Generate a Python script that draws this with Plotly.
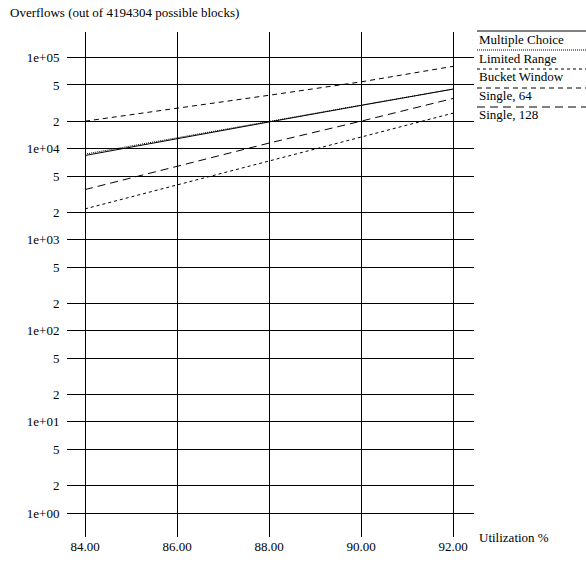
import plotly.graph_objects as go

# ---- data ----
utilization = [84, 86, 88, 90, 92]
series_names = ["Multiple Choice", "Limited Range", "Bucket Window", "Single, 64", "Single, 128"]
multiple_choice = [8400, 12900, 19600, 29800, 45000]
limited_range = [8700, 13200, 19900, 30000, 45000]
bucket_window = [2180, 4000, 7300, 13400, 24500]
single_64 = [20000, 27500, 38500, 54000, 80000]
single_128 = [3550, 6400, 11500, 20000, 35500]

x_tick_vals = [84, 86, 88, 90, 92]
x_tick_text = ["84.00", "86.00", "88.00", "90.00", "92.00"]
y_tick_vals = [1, 2, 5, 10, 20, 50, 100, 200, 500, 1000, 2000, 5000,
               10000, 20000, 50000, 100000]
y_tick_text = ["1e+00", "2", "5", "1e+01", "2", "5", "1e+02", "2", "5",
               "1e+03", "2", "5", "1e+04", "2", "5", "1e+05"]

series_values = [multiple_choice, limited_range, bucket_window, single_64, single_128]
dashes = ["solid", "1px,1px", "3px,3px", "5px,4px", "8px,5px"]

W, H = 586, 562
L, R, T, B = 67, 474, 32, 537


def px_x(p):
    return (p - L) / (R - L)


def px_y(p):
    return (B - p) / (B - T)


fig = go.Figure()
for name, vals, dash in zip(series_names, series_values, dashes):
    fig.add_trace(go.Scatter(
        x=utilization, y=vals, mode="lines", name=name,
        line=dict(color="black", width=1, dash=dash),
        showlegend=False,
    ))

font = dict(family="Liberation Serif, Times New Roman, serif", size=13, color="black")

fig.update_layout(
    width=W, height=H,
    margin=dict(l=L, r=W - R, t=T, b=H - B, pad=0),
    paper_bgcolor="white", plot_bgcolor="white",
    font=font,
    xaxis=dict(
        range=[84 - 18 / 46, 92 + 21 / 46],
        tickvals=x_tick_vals, ticktext=x_tick_text,
        showgrid=True, gridcolor="black", gridwidth=1,
        zeroline=False, showline=False, automargin=False,
        ticks="", tickfont=font,
    ),
    yaxis=dict(
        type="log",
        range=[-0.263, 5.28],
        tickvals=y_tick_vals, ticktext=y_tick_text,
        showgrid=True, gridcolor="black", gridwidth=1,
        zeroline=False, showline=False, automargin=False,
        ticks="outside", ticklen=4, tickcolor="rgba(0,0,0,0)",
        tickfont=font,
    ),
)

annotations = [
    dict(text="Overflows (out of 4194304 possible blocks)", xref="paper", yref="paper",
         x=px_x(8), y=px_y(13), xanchor="left", yanchor="middle", showarrow=False, font=font),
    dict(text="Utilization %", xref="paper", yref="paper",
         x=px_x(477), y=px_y(537), xanchor="left", yanchor="middle", showarrow=False, font=font),
]
shapes = []
legend_line_y = [31, 50, 69, 88, 107]
legend_text_y = [39, 58, 77, 95, 114]
for name, dash, ly, ty in zip(series_names, dashes, legend_line_y, legend_text_y):
    shapes.append(dict(type="line", xref="paper", yref="paper",
                       x0=px_x(477), x1=px_x(590), y0=px_y(ly), y1=px_y(ly),
                       line=dict(color="black", width=1, dash=dash)))
    annotations.append(dict(text=name, xref="paper", yref="paper",
                            x=px_x(477), y=px_y(ty), xanchor="left", yanchor="middle",
                            showarrow=False, font=font))

fig.update_layout(annotations=annotations, shapes=shapes)
fig.write_html("out.html")
